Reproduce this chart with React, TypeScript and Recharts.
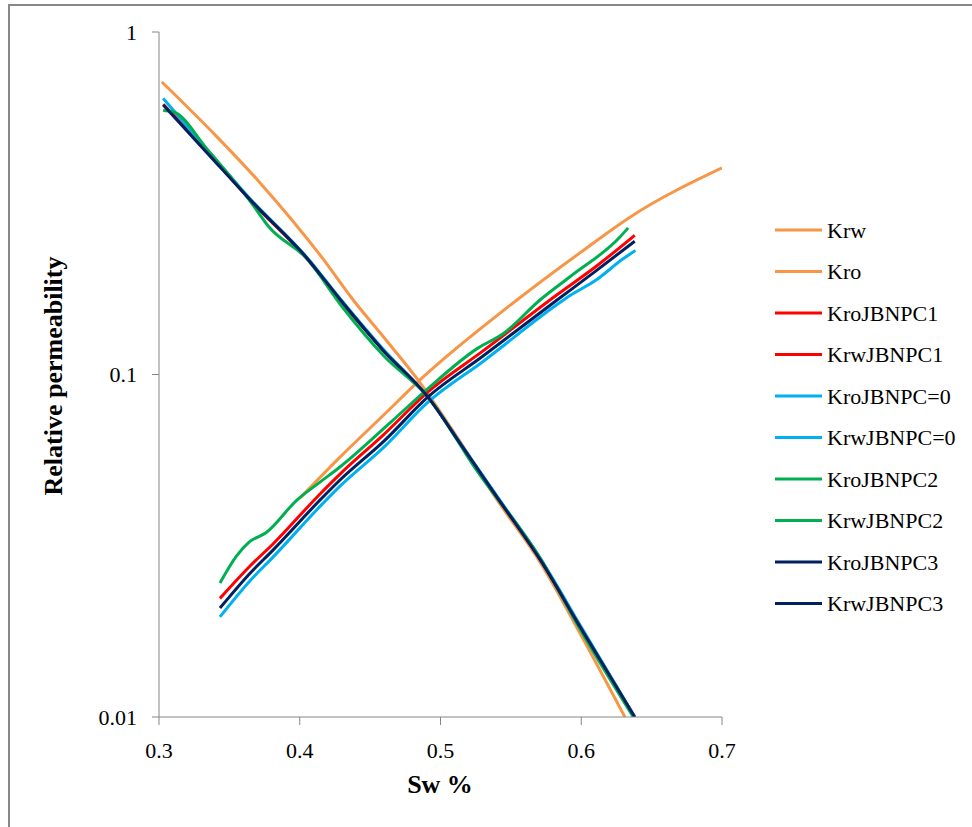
import React from "react";
import { LineChart, Line, XAxis, YAxis } from "recharts";

// Sw values and relative permeabilities
const krwSw = [0.4, 0.4286, 0.46, 0.4854, 0.5543, 0.6, 0.6346, 0.7];
const krw = [0.0435, 0.0574, 0.0764, 0.0964, 0.165, 0.228, 0.288, 0.401];

const kroSw = [0.302, 0.34, 0.372, 0.416, 0.438, 0.46, 0.484, 0.507, 0.54, 0.571, 0.6, 0.631];
const kro = [0.715, 0.5, 0.362, 0.219, 0.165, 0.128, 0.0964, 0.0703, 0.0432, 0.0282, 0.0173, 0.01];

const jbnpcKroSw = [0.303, 0.335, 0.365, 0.405, 0.429, 0.459, 0.491, 0.515, 0.54, 0.571, 0.6, 0.638];
const kroJ1 = [0.615, 0.445, 0.322, 0.218, 0.164, 0.118, 0.086, 0.062, 0.044, 0.0288, 0.0182, 0.01];
const kroJ0 = [0.64, 0.45, 0.325, 0.22, 0.166, 0.119, 0.086, 0.0622, 0.0442, 0.029, 0.0183, 0.01];
const kroJ3 = [0.612, 0.44, 0.323, 0.219, 0.165, 0.118, 0.086, 0.062, 0.0439, 0.0287, 0.0181, 0.01];

const kroJ2Sw = [0.303, 0.31, 0.335, 0.365, 0.378, 0.405, 0.43, 0.46, 0.491, 0.525, 0.571, 0.6, 0.637];
const kroJ2 = [0.59, 0.585, 0.45, 0.32, 0.27, 0.218, 0.158, 0.113, 0.086, 0.053, 0.029, 0.0178, 0.01];

const jbnpcKrwSw = [0.3433, 0.3647, 0.381, 0.4144, 0.4286, 0.46, 0.4911, 0.53, 0.5828, 0.61, 0.638];
const krwJ1 = [0.0222, 0.0276, 0.032, 0.0448, 0.0512, 0.067, 0.089, 0.117, 0.171, 0.206, 0.255];
const krwJ3 = [0.0208, 0.0263, 0.0307, 0.043, 0.0492, 0.064, 0.086, 0.113, 0.165, 0.2, 0.245];

const krwJ0Sw = [0.3433, 0.3647, 0.381, 0.4144, 0.4286, 0.46, 0.4911, 0.53, 0.5828, 0.592, 0.61, 0.63, 0.6385];
const krwJ0 = [0.0196, 0.025, 0.0293, 0.0412, 0.0472, 0.0615, 0.083, 0.109, 0.16, 0.17, 0.188, 0.218, 0.23];

const krwJ2Sw = [0.3433, 0.355, 0.364, 0.376, 0.398, 0.4144, 0.4286, 0.4641, 0.4911, 0.526, 0.545, 0.5707, 0.592, 0.6275, 0.6333];
const krwJ2 = [0.0246, 0.0295, 0.0324, 0.0345, 0.043, 0.0485, 0.0537, 0.0722, 0.091, 0.119, 0.132, 0.165, 0.193, 0.252, 0.268];

const xTicks = [0.3, 0.4, 0.5, 0.6, 0.7];
const yTicks = [0.01, 0.1, 1];

const toPoints = (sw: number[], kr: number[]) => sw.map((s, i) => ({ sw: s, kr: kr[i] }));

const series = [
  { name: "Krw", color: "#F79646", data: toPoints(krwSw, krw) },
  { name: "Kro", color: "#F79646", data: toPoints(kroSw, kro) },
  { name: "KroJBNPC1", color: "#FF0000", data: toPoints(jbnpcKroSw, kroJ1) },
  { name: "KrwJBNPC1", color: "#FF0000", data: toPoints(jbnpcKrwSw, krwJ1) },
  { name: "KroJBNPC=0", color: "#00B0F0", data: toPoints(jbnpcKroSw, kroJ0) },
  { name: "KrwJBNPC=0", color: "#00B0F0", data: toPoints(krwJ0Sw, krwJ0) },
  { name: "KroJBNPC2", color: "#00B050", data: toPoints(kroJ2Sw, kroJ2) },
  { name: "KrwJBNPC2", color: "#00B050", data: toPoints(krwJ2Sw, krwJ2) },
  { name: "KroJBNPC3", color: "#002060", data: toPoints(jbnpcKroSw, kroJ3) },
  { name: "KrwJBNPC3", color: "#002060", data: toPoints(jbnpcKrwSw, krwJ3) },
];

const font = "'Liberation Serif', 'Times New Roman', serif";
const axisGray = "#868686";

export default function App() {
  return (
    <div style={{ position: "absolute", left: 0, top: 0, width: 972, height: 827, background: "#fff" }}>
      <div
        style={{
          position: "absolute",
          left: 8,
          top: 4,
          width: 964,
          height: 823,
          borderTop: "2px solid #888",
          borderLeft: "2px solid #888",
        }}
      />
      <div style={{ position: "absolute", left: 0, top: 0 }}>
        <LineChart width={972} height={827} margin={{ top: 32, right: 250, bottom: 70, left: 99 }}>
          <XAxis
            type="number"
            dataKey="sw"
            domain={[0.3, 0.7]}
            ticks={xTicks}
            tickFormatter={(v: number) => String(v)}
            height={40}
            tickSize={8}
            tickMargin={17}
            stroke={axisGray}
            tick={{ fill: "#000", fontSize: 22, fontFamily: font }}
            allowDataOverflow
          />
          <YAxis
            type="number"
            scale="log"
            domain={[0.01, 1]}
            ticks={yTicks}
            tickFormatter={(v: number) => String(v)}
            width={60}
            tickSize={7}
            tickMargin={15}
            stroke={axisGray}
            tick={{ fill: "#000", fontSize: 22, fontFamily: font }}
            allowDataOverflow
          />
          {series.map((s) => (
            <Line
              key={s.name}
              name={s.name}
              data={s.data}
              dataKey="kr"
              type="monotone"
              stroke={s.color}
              strokeWidth={3}
              dot={false}
              activeDot={false}
              isAnimationActive={false}
            />
          ))}
        </LineChart>
      </div>
      <svg width={972} height={827} style={{ position: "absolute", left: 0, top: 0, pointerEvents: "none" }}>
        <text x={440} y={793} textAnchor="middle" fontFamily={font} fontWeight="bold" fontSize={26} fill="#000">
          Sw %
        </text>
        <text
          x={0}
          y={0}
          transform="translate(62 376) rotate(-90)"
          textAnchor="middle"
          fontFamily={font}
          fontWeight="bold"
          fontSize={26}
          fill="#000"
        >
          Relative permeability
        </text>
        {series.map((s, i) => {
          const y = 230 + i * 41.5;
          return (
            <g key={s.name}>
              <line x1={775} x2={822} y1={y} y2={y} stroke={s.color} strokeWidth={3} />
              <text x={827} y={y} dy="0.35em" fontFamily={font} fontSize={22} fill="#000">
                {s.name}
              </text>
            </g>
          );
        })}
      </svg>
    </div>
  );
}
